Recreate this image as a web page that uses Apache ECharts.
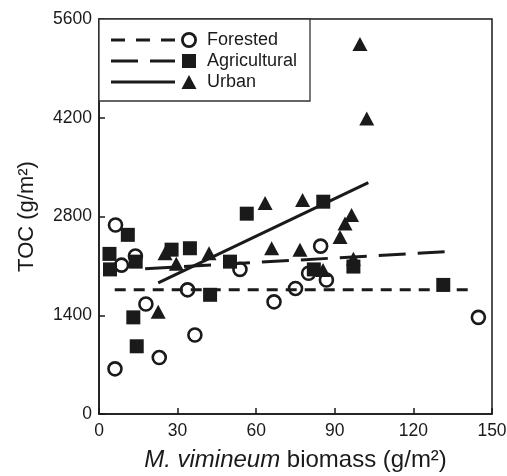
<!DOCTYPE html>
<html lang="en" style="height: 100%">
  <head>
    <meta charset="utf-8" />
  </head>
  <body style="height: 100%; margin: 0; background: #fff">
    <div id="container" style="width: 507px; height: 476px"></div>

    <script src="https://cdn.jsdelivr.net/npm/echarts@6/dist/echarts.min.js"></script>

    <script type="text/javascript">
      // points: [biomass, TOC]
      var forested = [
        [6.3, 2680], [8.6, 2110], [13.9, 2240], [17.9, 1560], [6.1, 640],
        [23.0, 800], [36.6, 1120], [33.8, 1760], [53.8, 2050], [66.8, 1590],
        [75.0, 1780], [84.6, 2380], [80.0, 1995], [86.8, 1900], [144.8, 1370]
      ];
      var agricultural = [
        [4.0, 2270], [4.2, 2050], [11.0, 2540], [14.0, 2160], [27.7, 2330],
        [34.7, 2350], [42.4, 1690], [50.0, 2160], [13.1, 1370], [14.4, 960],
        [56.4, 2840], [85.6, 3010], [97.1, 2090], [82.0, 2050], [131.4, 1830]
      ];
      var urban = [
        [99.6, 5245], [102.2, 4190], [77.7, 3034], [63.4, 2990], [65.9, 2350],
        [76.7, 2330], [96.4, 2820], [93.9, 2700], [92.0, 2510], [85.5, 2040],
        [97.1, 2200], [22.6, 1450], [42.0, 2280], [25.2, 2280], [29.5, 2130]
      ];
      // regression line end points
      var forestedFit = [[6, 1760], [143, 1760]];
      var agriculturalFit = [[17.6, 2060], [132, 2300]];
      var urbanFit = [[22.6, 1860], [102.8, 3280]];

      var xTicks = [0, 30, 60, 90, 120, 150];
      var yTicks = [0, 1400, 2800, 4200, 5600];
      var legendNames = ["Forested", "Agricultural", "Urban"];

      var ink = "#1a1a1a";
      var font = "Liberation Sans, Arial, sans-serif";

      var dom = document.getElementById("container");
      var myChart = echarts.init(dom, null, { renderer: "canvas" });

      function fitLine(data, dash) {
        return {
          type: "line",
          data: data,
          showSymbol: false,
          silent: true,
          z: 3,
          lineStyle: { color: ink, width: 3, type: dash },
        };
      }

      // legend drawn by hand: line sample, marker, label
      var lx0 = 111, lx1 = 175, mx = 189, tx = 207;
      var rows = [40, 61, 82];
      var dashes = [[14, 11], [27, 12], null];
      var legend = [
        {
          type: "rect",
          shape: { x: 99, y: 19, width: 211, height: 82 },
          style: { fill: "#fff", stroke: "#333", lineWidth: 1.3 },
          z: 10,
        },
      ];
      rows.forEach(function (y, i) {
        legend.push({
          type: "line",
          shape: { x1: lx0, y1: y, x2: lx1, y2: y },
          style: { stroke: ink, lineWidth: 3, lineDash: dashes[i] },
          z: 11,
        });
        legend.push({
          type: "text",
          x: tx,
          y: y,
          style: {
            text: legendNames[i],
            fontSize: 18,
            fontFamily: font,
            fill: ink,
            verticalAlign: "middle",
          },
          z: 11,
        });
      });
      legend.push({
        type: "circle",
        shape: { cx: mx, cy: rows[0], r: 6.6 },
        style: { fill: "#fff", stroke: ink, lineWidth: 2.8 },
        z: 11,
      });
      legend.push({
        type: "rect",
        shape: { x: mx - 7, y: rows[1] - 7, width: 14, height: 14 },
        style: { fill: ink },
        z: 11,
      });
      legend.push({
        type: "polygon",
        shape: { points: [[mx, rows[2] - 7], [mx + 7.5, rows[2] + 7], [mx - 7.5, rows[2] + 7]] },
        style: { fill: ink },
        z: 11,
      });

      var axisCommon = {
        type: "value",
        axisLine: { show: true, lineStyle: { color: ink, width: 1.5 } },
        axisTick: { show: true, inside: true, length: 6, lineStyle: { color: ink, width: 1.5 } },
        splitLine: { show: false },
        axisLabel: {
          fontSize: 17.5,
          fontFamily: font,
          color: ink,
          formatter: function (v) { return String(v); },
        },
        nameLocation: "middle",
      };

      var option = {
        animation: false,
        grid: {
          left: 99,
          top: 19,
          right: 15,
          bottom: 62,
          outerBoundsMode: "none",
          containLabel: false,
          show: true,
          borderColor: ink,
          borderWidth: 1.5,
        },
        xAxis: Object.assign({}, axisCommon, {
          min: xTicks[0],
          max: xTicks[xTicks.length - 1],
          interval: xTicks[1] - xTicks[0],
          axisLabel: Object.assign({}, axisCommon.axisLabel, { margin: 8 }),
          name: "{i|M. vimineum} biomass (g/m²)",
          nameGap: 34,
          nameTextStyle: {
            fontSize: 24,
            fontFamily: font,
            color: ink,
            rich: { i: { fontStyle: "italic", fontSize: 24, fontFamily: font, color: ink } },
          },
        }),
        yAxis: Object.assign({}, axisCommon, {
          min: yTicks[0],
          max: yTicks[yTicks.length - 1],
          interval: yTicks[1] - yTicks[0],
          axisLabel: Object.assign({}, axisCommon.axisLabel, { margin: 7 }),
          name: "TOC (g/m²)",
          nameGap: 61,
          nameTextStyle: { fontSize: 22, fontFamily: font, color: ink },
        }),
        graphic: legend,
        series: [
          {
            name: legendNames[0],
            type: "scatter",
            data: forested,
            symbol: "circle",
            symbolSize: 13,
            z: 2,
            itemStyle: { color: "#fff", borderColor: ink, borderWidth: 2.6, opacity: 1 },
          },
          fitLine(forestedFit, [11, 8]),
          fitLine(agriculturalFit, [27, 12]),
          fitLine(urbanFit, "solid"),
          {
            name: legendNames[1],
            type: "scatter",
            data: agricultural,
            symbol: "rect",
            symbolSize: 14,
            z: 4,
            itemStyle: { color: ink, opacity: 1 },
          },
          {
            name: legendNames[2],
            type: "scatter",
            data: urban,
            symbol: "triangle",
            symbolSize: [15, 14],
            z: 4,
            itemStyle: { color: ink, opacity: 1 },
          },
        ],
      };

      myChart.setOption(option);
      window.addEventListener("resize", myChart.resize);
    </script>
  </body>
</html>
